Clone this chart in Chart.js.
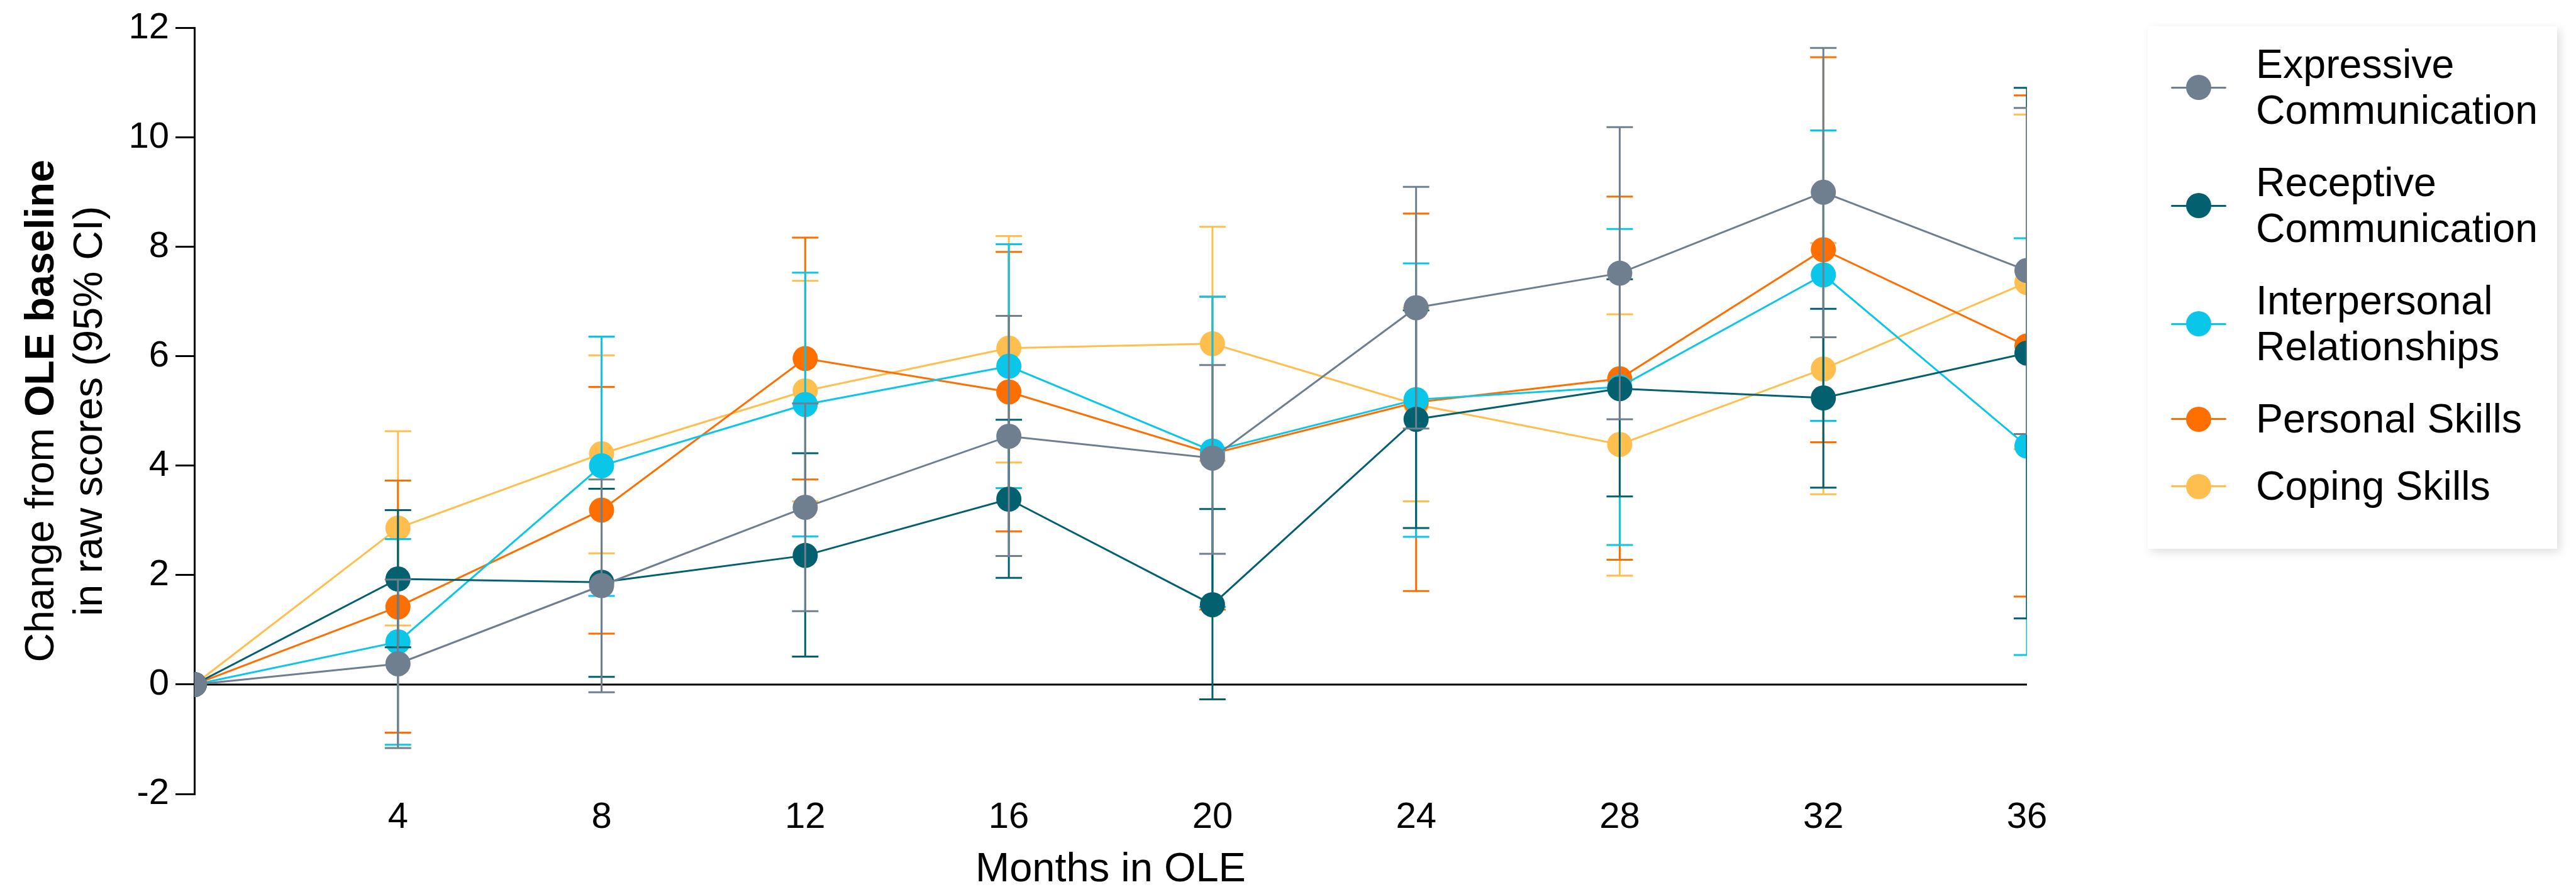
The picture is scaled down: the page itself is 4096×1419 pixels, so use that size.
<!DOCTYPE html>
<html>
<head>
<meta charset="utf-8">
<script src="https://cdn.jsdelivr.net/npm/chart.js@4.4.1/dist/chart.umd.min.js"></script>
<style>
  html, body { margin: 0; padding: 0; background: #fff; }
  #wrap { position: relative; width: 4096px; height: 1419px; }
  #legend {
    position: absolute; left: 3415px; top: 42px; width: 651px; height: 831px;
    box-sizing: border-box; padding: 24px 0 0 0; background: #fff;
    box-shadow: 5px 5px 14px rgba(0,0,0,0.13);
    font-family: "Liberation Sans", Arial, sans-serif; font-size: 64.5px; line-height: 73px; color: #000;
  }
  .item { position: relative; margin-bottom: 42px; padding-left: 172px; }
  .item:nth-last-child(2) { margin-bottom: 34px; }
  .mark { position: absolute; left: 37px; top: 50%; width: 88px; height: 0; }
  .mark .ln { position: absolute; left: 0; top: -1.5px; width: 88px; height: 3px; border-radius: 2px; }
  .mark .dot { position: absolute; left: 24px; top: -20px; width: 40px; height: 40px; border-radius: 50%; }
</style>
</head>
<body>
<div id="wrap">
  <canvas id="chart" width="4096" height="1419"></canvas>
  <div id="legend"></div>
</div>
<script>
// kuukaudet
const months = [0, 4, 8, 12, 16, 20, 24, 28, 32, 36];
const xTicks = [4, 8, 12, 16, 20, 24, 28, 32, 36];

const seriesNames = ["Expressive Communication", "Receptive Communication", "Interpersonal Relationships", "Personal Skills", "Coping Skills"];
const legendLines = [["Expressive", "Communication"], ["Receptive", "Communication"], ["Interpersonal", "Relationships"], ["Personal Skills"], ["Coping Skills"]];
const colors = ["#6F7F8F", "#03606F", "#0AC6E8", "#FF6F00", "#FFBF4F"];

// keskiarvot
const expressive = [0, 0.38, 1.81, 3.24, 4.54, 4.14, 6.89, 7.52, 9.00, 7.57];
const receptive = [0, 1.93, 1.87, 2.36, 3.39, 1.46, 4.85, 5.41, 5.24, 6.06];
const interpersonal = [0, 0.78, 4.00, 5.12, 5.82, 4.27, 5.21, 5.44, 7.49, 4.36];
const personal = [0, 1.42, 3.19, 5.96, 5.35, 4.22, 5.16, 5.59, 7.95, 6.19];
const coping = [0, 2.86, 4.22, 5.37, 6.15, 6.23, 5.12, 4.39, 5.77, 7.35];

// 95% CI alarajat
const expressiveLo = [0, -1.16, -0.14, 1.34, 2.35, 2.39, 4.68, 4.85, 6.35, 4.58];
const receptiveLo = [0, 0.68, 0.14, 0.51, 1.95, -0.27, 2.86, 3.44, 3.60, 1.21];
const interpersonalLo = [0, -1.10, 1.62, 2.71, 3.59, 1.42, 2.70, 2.55, 4.82, 0.54];
const personalLo = [0, -0.88, 0.93, 3.75, 2.80, 1.37, 1.71, 2.28, 4.43, 1.61];
const copingLo = [0, 1.08, 2.40, 3.35, 4.06, 4.09, 3.35, 1.99, 3.48, 4.30];

// 95% CI ylarajat
const expressiveHi = [0, 1.92, 3.75, 5.14, 6.74, 5.84, 9.10, 10.19, 11.64, 10.54];
const receptiveHi = [0, 3.19, 3.58, 4.23, 4.84, 3.21, 6.84, 7.41, 6.87, 10.91];
const interpersonalHi = [0, 2.66, 6.36, 7.53, 8.05, 7.09, 7.70, 8.33, 10.13, 8.16];
const personalHi = [0, 3.73, 5.44, 8.17, 7.91, 7.09, 8.61, 8.92, 11.47, 10.77];
const copingHi = [0, 4.63, 6.02, 7.38, 8.20, 8.37, 6.89, 6.77, 8.07, 10.42];

const values = [expressive, receptive, interpersonal, personal, coping];
const lows = [expressiveLo, receptiveLo, interpersonalLo, personalLo, copingLo];
const highs = [expressiveHi, receptiveHi, interpersonalHi, personalHi, copingHi];

const FONT = '"Liberation Sans", Arial, sans-serif';
Chart.defaults.font.family = FONT;
Chart.defaults.color = "#000";

// virhepalkit jokaiselle sarjalle
const errorBars = {
  id: "errorBars",
  afterDatasetDraw(chart, args) {
    const i = args.index;
    const ctx = chart.ctx;
    const xs = chart.scales.x, ys = chart.scales.y;
    const area = chart.chartArea;
    ctx.save();
    ctx.beginPath();
    ctx.rect(area.left, area.top, area.right - area.left, area.bottom - area.top);
    ctx.clip();
    ctx.strokeStyle = colors[i];
    ctx.lineWidth = 3;
    const cap = 21;
    months.forEach((m, j) => {
      if (lows[i][j] === highs[i][j]) return;
      const x = xs.getPixelForValue(m);
      const y1 = ys.getPixelForValue(lows[i][j]);
      const y2 = ys.getPixelForValue(highs[i][j]);
      ctx.beginPath();
      ctx.moveTo(x, y1); ctx.lineTo(x, y2);
      ctx.moveTo(x - cap, y1); ctx.lineTo(x + cap, y1);
      ctx.moveTo(x - cap, y2); ctx.lineTo(x + cap, y2);
      ctx.stroke();
    });
    ctx.restore();
  }
};

// nollaviiva
const zeroLine = {
  id: "zeroLine",
  beforeDatasetsDraw(chart) {
    const ctx = chart.ctx, a = chart.chartArea;
    const y = chart.scales.y.getPixelForValue(0);
    ctx.save();
    ctx.strokeStyle = "#000";
    ctx.lineWidth = 3;
    ctx.beginPath();
    ctx.moveTo(a.left, y); ctx.lineTo(a.right, y);
    ctx.stroke();
    ctx.restore();
  }
};

// y-akselin otsikko (osittain lihavoitu)
const yTitle = {
  id: "yTitle",
  afterDraw(chart) {
    const ctx = chart.ctx, a = chart.chartArea;
    const cy = (a.top + a.bottom) / 2;
    const size = 64.5;
    ctx.save();
    ctx.fillStyle = "#000";
    ctx.textBaseline = "middle";
    // rivi 1
    ctx.translate(67, cy);
    ctx.rotate(-Math.PI / 2);
    const p1 = "Change from ", p2 = "OLE baseline";
    ctx.font = size + "px " + FONT;
    const w1 = ctx.measureText(p1).width;
    ctx.font = "bold " + size + "px " + FONT;
    const w2 = ctx.measureText(p2).width;
    let x = -(w1 + w2) / 2;
    ctx.textAlign = "left";
    ctx.font = size + "px " + FONT;
    ctx.fillText(p1, x, 0);
    ctx.font = "bold " + size + "px " + FONT;
    ctx.fillText(p2, x + w1, 0);
    ctx.restore();
    // rivi 2
    ctx.save();
    ctx.fillStyle = "#000";
    ctx.textBaseline = "middle";
    ctx.textAlign = "center";
    ctx.translate(144, cy);
    ctx.rotate(-Math.PI / 2);
    ctx.font = size + "px " + FONT;
    ctx.fillText("in raw scores (95% CI)", 0, 0);
    ctx.restore();
  }
};

const datasets = seriesNames.map((name, i) => ({
  label: name,
  data: months.map((m, j) => ({ x: m, y: values[i][j] })),
  borderColor: colors[i],
  backgroundColor: colors[i],
  borderWidth: 3,
  pointRadius: 20,
  pointBorderWidth: 0,
  pointBackgroundColor: colors[i],
  tension: 0,
  clip: 0
}));

new Chart(document.getElementById("chart").getContext("2d"), {
  type: "line",
  data: { datasets: datasets },
  options: {
    animation: false,
    responsive: false,
    devicePixelRatio: 1,
    layout: { padding: { left: 0, top: 38, right: 873, bottom: 0 } },
    plugins: { legend: { display: false }, tooltip: { enabled: false } },
    scales: {
      x: {
        type: "linear",
        min: 0,
        max: 36,
        afterFit: s => { s.height = 156; },
        afterBuildTicks: s => { s.ticks = xTicks.map(v => ({ value: v })); },
        grid: { display: false, drawTicks: false },
        border: { display: false },
        ticks: { padding: 3, color: "#000", font: { size: 58 }, maxRotation: 0, autoSkip: false },
        title: { display: true, text: "Months in OLE", color: "#000", font: { size: 65, lineHeight: 1.08 }, padding: 0 }
      },
      y: {
        min: -2,
        max: 12,
        afterFit: s => { s.width = 309; },
        border: { display: true, color: "#000", width: 3 },
        grid: { drawOnChartArea: false, drawTicks: true, tickLength: 30, color: "#000", lineWidth: 3 },
        ticks: { stepSize: 2, padding: 10, color: "#000", font: { size: 58 } }
      }
    }
  },
  plugins: [zeroLine, errorBars, yTitle]
});

// selite
const legendEl = document.getElementById("legend");
legendLines.forEach((lines, i) => {
  const item = document.createElement("div");
  item.className = "item";
  item.innerHTML = '<div class="mark"><div class="ln" style="background:' + colors[i] + '"></div>' +
    '<div class="dot" style="background:' + colors[i] + '"></div></div>' + lines.join("<br>");
  legendEl.appendChild(item);
});
</script>
</body>
</html>
